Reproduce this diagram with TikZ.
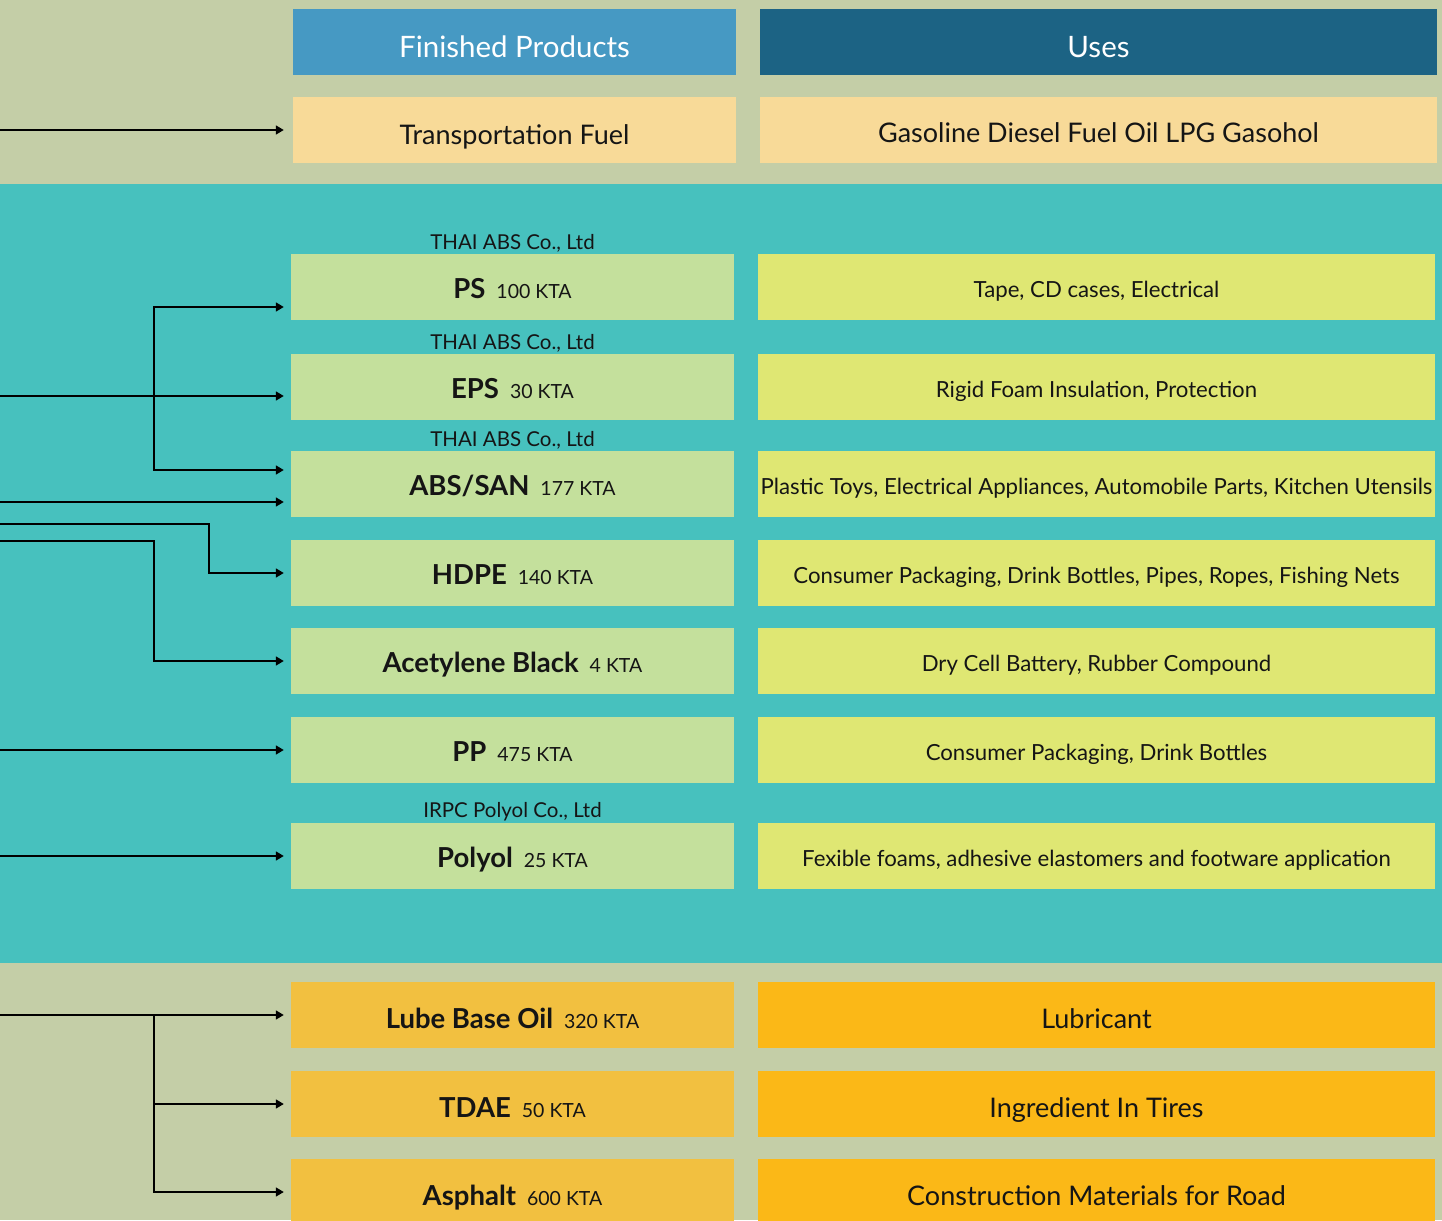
\documentclass[tikz,border=0pt]{standalone}
\usepackage{fontspec}
\setmainfont{Lato}
\usetikzlibrary{arrows.meta,calc}

\definecolor{sage}{HTML}{C4CEA7}
\definecolor{band}{HTML}{47C1BE}
\definecolor{hdrA}{HTML}{4699C3}
\definecolor{hdrB}{HTML}{1C6384}
\definecolor{fuelbox}{HTML}{F8DA98}
\definecolor{prodgreen}{HTML}{C4E09C}
\definecolor{useyellow}{HTML}{DFE773}
\definecolor{prodorange}{HTML}{F2C040}
\definecolor{useorange}{HTML}{FBB817}
\definecolor{ink}{HTML}{151515}

\tikzset{
  cell/.style={inner sep=0pt, minimum height=66pt, text=ink, text depth=0pt},
  leftcell/.style={cell, minimum width=443pt},
  rightcell/.style={cell, minimum width=677pt},
  hdr/.style={text=white, text height=31pt, font=\fontsize{29.5}{34}\selectfont},
  fuelcell/.style={fill=fuelbox, font=\fontsize{27}{32}\selectfont},
  prod/.style={leftcell, fill=prodgreen, text height=22pt},
  produse/.style={rightcell, fill=useyellow, text height=20pt, font=\fontsize{22.2}{26}\selectfont},
  oil/.style={leftcell, fill=prodorange, text height=26pt},
  oiluse/.style={rightcell, fill=useorange, text height=26pt, font=\fontsize{27}{32}\selectfont},
  company/.style={inner sep=0pt, anchor=base, text=ink, font=\fontsize{20.5}{24}\selectfont},
  feed/.style={line width=1.6pt, -{Triangle[length=8pt,width=9pt]}},
  feedboth/.style={line width=1.6pt, {Triangle[length=8pt,width=9pt]}-{Triangle[length=8pt,width=9pt]}}
}
\newcommand{\pname}[2]{{\fontsize{27.5}{30}\selectfont\bfseries #1}\hspace{11pt}{\fontsize{19.5}{22}\selectfont #2}}

\begin{document}
\begin{tikzpicture}[x=1pt,y=-1pt]
\useasboundingbox (0,0) rectangle (1442,1220);
\begin{scope}
\clip (0,0) rectangle (1442,1220);
% background bands
\fill[sage] (0,0) rectangle (1442,1220);
\fill[band] (0,184) rectangle (1442,963);

% column headers
\node[leftcell, fill=hdrA, hdr] (hfin) at (514.5,42) {Finished Products};
\node[rightcell, fill=hdrB, hdr] (huse) at (1098.5,42) {Uses};

% fuels
\node[leftcell, fuelcell, text height=30pt] (fuel) at (514.5,130) {Transportation Fuel};
\node[rightcell, fuelcell, text height=25pt] (fueluse) at (1098.5,130) {Gasoline Diesel Fuel Oil LPG Gasohol};

% petrochemicals
\node[prod] (ps) at (512.5,287) {\pname{PS}{100 KTA}};
\node[produse] (psuse) at (1096.5,287) {Tape, CD cases, Electrical};
\node[prod] (eps) at (512.5,387) {\pname{EPS}{30 KTA}};
\node[produse] (epsuse) at (1096.5,387) {Rigid Foam Insulation, Protection};
\node[prod] (abs) at (512.5,484) {\pname{ABS/SAN}{177 KTA}};
\node[produse] (absuse) at (1096.5,484) {Plastic Toys, Electrical Appliances, Automobile Parts, Kitchen Utensils};
\node[prod] (hdpe) at (512.5,573) {\pname{HDPE}{140 KTA}};
\node[produse] (hdpeuse) at (1096.5,573) {Consumer Packaging, Drink Bottles, Pipes, Ropes, Fishing Nets};
\node[prod] (acb) at (512.5,661) {\pname{Acetylene Black}{4 KTA}};
\node[produse] (acbuse) at (1096.5,661) {Dry Cell Battery, Rubber Compound};
\node[prod] (pp) at (512.5,750) {\pname{PP}{475 KTA}};
\node[produse] (ppuse) at (1096.5,750) {Consumer Packaging, Drink Bottles};
\node[prod] (polyol) at (512.5,856) {\pname{Polyol}{25 KTA}};
\node[produse] (polyoluse) at (1096.5,856) {Fexible foams, adhesive elastomers and footware application};

% producing companies
\node[company] (c1) at (512.5,249) {THAI ABS Co., Ltd};
\node[company] (c2) at (512.5,349) {THAI ABS Co., Ltd};
\node[company] (c3) at (512.5,446) {THAI ABS Co., Ltd};
\node[company] (c4) at (512.5,817) {IRPC Polyol Co., Ltd};

% lubricants and asphalt
\node[oil] (lube) at (512.5,1015) {\pname{Lube Base Oil}{320 KTA}};
\node[oiluse] (lubeuse) at (1096.5,1015) {Lubricant};
\node[oil] (tdae) at (512.5,1104) {\pname{TDAE}{50 KTA}};
\node[oiluse] (tdaeuse) at (1096.5,1104) {Ingredient In Tires};
\node[oil] (asph) at (512.5,1192) {\pname{Asphalt}{600 KTA}};
\node[oiluse] (asphuse) at (1096.5,1192) {Construction Materials for Road};

% incoming feeds
\coordinate (sfuel) at (0,130);
\coordinate (seps) at (0,396);
\coordinate (sabs) at (0,502);
\coordinate (shdpe) at (0,524);
\coordinate (sacb) at (0,541);
\coordinate (spp) at (0,750);
\coordinate (spolyol) at (0,856);
\coordinate (slube) at (0,1015);

\draw[feed] (sfuel) -- ($(fuel.west)+(-9,0)$);
\draw[feedboth] ($(ps.west)+(-7,20)$) -- ($(ps.west)+(-137,20)$) -- ($(abs.west)+(-137,-14)$) -- ($(abs.west)+(-7,-14)$);
\draw[feed] (seps) -- ($(eps.west)+(-7,9)$);
\draw[feed] (sabs) -- ($(abs.west)+(-7,18)$);
\draw[feed] (shdpe) -| ($(hdpe.west)+(-82,0)$) -- ($(hdpe.west)+(-7,0)$);
\draw[feed] (sacb) -| ($(acb.west)+(-137,0)$) -- ($(acb.west)+(-7,0)$);
\draw[feed] (spp) -- ($(pp.west)+(-7,0)$);
\draw[feed] (spolyol) -- ($(polyol.west)+(-7,0)$);

\draw[feed] (slube) -- ($(lube.west)+(-7,0)$);
\draw[feed] ($(lube.west)+(-137,0)$) |- ($(tdae.west)+(-7,0)$);
\draw[feed] ($(lube.west)+(-137,0)$) |- ($(asph.west)+(-7,0)$);
\end{scope}
\end{tikzpicture}
\end{document}
